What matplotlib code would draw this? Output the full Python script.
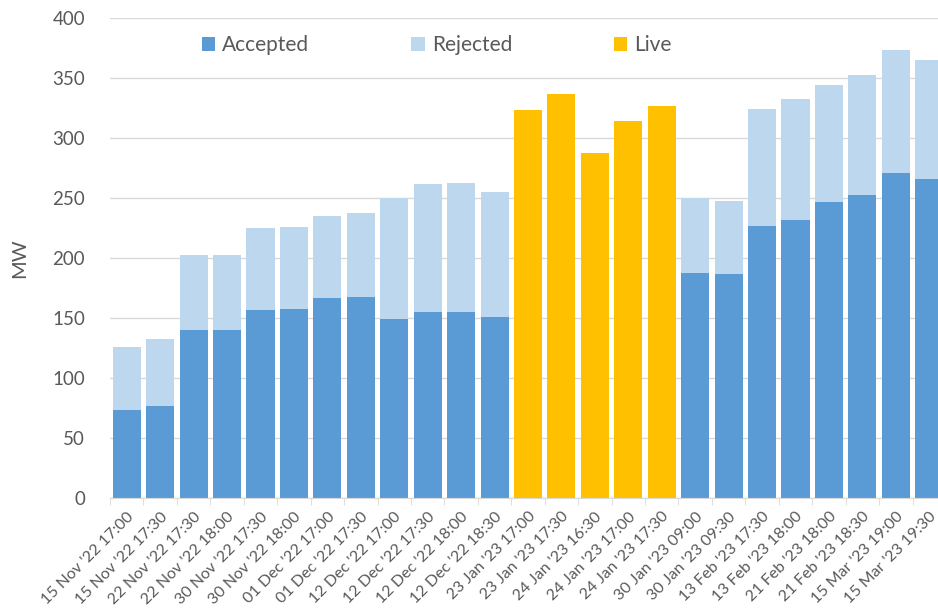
import matplotlib.pyplot as plt
import numpy as np

plt.rcParams['font.family'] = ['Lato', 'DejaVu Sans']

# Dates des appels (catégories)
labels = ["15 Nov '22 17:00", "15 Nov '22 17:30", "22 Nov '22 17:30", "22 Nov '22 18:00",
          "30 Nov '22 17:30", "30 Nov '22 18:00", "01 Dec '22 17:00", "01 Dec '22 17:30",
          "12 Dec '22 17:00", "12 Dec '22 17:30", "12 Dec '22 18:00", "12 Dec '22 18:30",
          "23 Jan '23 17:00", "23 Jan '23 17:30", "24 Jan '23 16:30", "24 Jan '23 17:00",
          "24 Jan '23 17:30", "30 Jan '23 09:00", "30 Jan '23 09:30", "13 Feb '23 17:30",
          "13 Feb '23 18:00", "21 Feb '23 18:00", "21 Feb '23 18:30", "15 Mar '23 19:00",
          "15 Mar '23 19:30"]

accepted = [73.5, 77, 140, 140, 157, 158, 167, 168, 149, 155, 155, 151,
            0, 0, 0, 0, 0,
            188, 187, 227, 232, 247, 252.5, 271, 266]
rejected = [52.5, 55.5, 63, 62.5, 68, 68, 68, 69.5, 101.5, 107, 108, 104.5,
            0, 0, 0, 0, 0,
            62.5, 60.5, 97.5, 101, 97, 100.5, 102.5, 99.5]
live = [0] * 12 + [323.5, 336.5, 288, 314.5, 326.5] + [0] * 8

gris = '#595959'
x = np.arange(len(labels))
w = 0.84

fig = plt.figure(figsize=(9.38, 6.09), dpi=100)
ax = fig.add_axes([0.1173, 0.1818, 0.8912, 0.7882])

ax.bar(x, accepted, w, color='#5B9BD5', label='Accepted', zorder=3)
ax.bar(x, rejected, w, bottom=accepted, color='#BDD7EE', label='Rejected', zorder=3)
ax.bar(x, live, w, color='#FFC000', label='Live', zorder=3)

# Mise en forme
ax.set_xlim(-0.5, len(labels) - 0.5)
ax.set_ylim(0, 400)
ax.set_yticks(np.arange(0, 401, 50))
ax.grid(axis='y', color='#D9D9D9', linewidth=1, zorder=0)
for s in ['top', 'right', 'left']:
    ax.spines[s].set_visible(False)
ax.spines['bottom'].set_color('#D9D9D9')
ax.spines['bottom'].set_zorder(4)

ax.set_xticks(x)
ax.set_xticklabels(labels, rotation=45, ha='right', rotation_mode='anchor',
                   fontsize=11.5, color=gris)
ax.set_xticks(np.arange(-0.5, len(labels), 1), minor=True)
ax.tick_params(axis='x', which='major', length=0, pad=8)
ax.tick_params(axis='x', which='minor', length=5, color='#D9D9D9')
ax.tick_params(axis='y', length=0, labelsize=13.5, labelcolor=gris, pad=18)

ax.set_ylabel("MW", fontsize=14.5, color=gris, labelpad=17)

ax.legend(loc='center', bbox_to_anchor=(0.391, 0.944), ncol=3, frameon=False,
          fontsize=15, labelcolor=gris, handlelength=0.63, handleheight=0.63,
          handletextpad=0.34, columnspacing=4.9)

fig.savefig('out.png', dpi=100)
